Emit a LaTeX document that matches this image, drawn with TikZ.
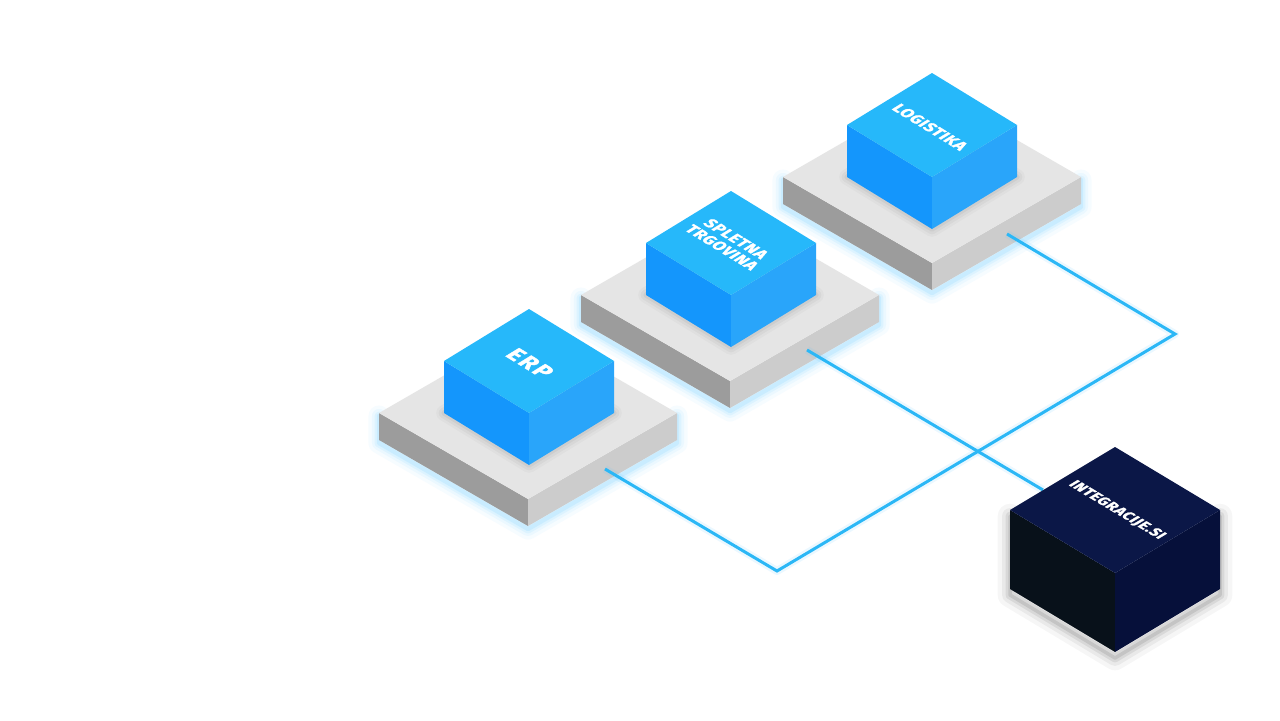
\documentclass[tikz,border=0pt]{standalone}
\usepackage{fontspec}
\setmainfont{Fira Sans}
\newfontfamily\lblfont[LetterSpace=4, BoldFeatures={FakeBold=1.6}]{Fira Sans}
\newfontfamily\erpfont[LetterSpace=10, BoldFeatures={FakeBold=1.8}]{Fira Sans}
\definecolor{cubeTop}{HTML}{26B8FA}
\definecolor{cubeLeft}{HTML}{1496FC}
\definecolor{cubeRight}{HTML}{29A5FA}
\definecolor{plateTop}{HTML}{E5E5E5}
\definecolor{plateLeft}{HTML}{9C9C9C}
\definecolor{plateRight}{HTML}{CCCCCC}
\definecolor{darkTop}{HTML}{0B1747}
\definecolor{darkLeft}{HTML}{08111A}
\definecolor{darkRight}{HTML}{06103A}
\definecolor{lineBlue}{HTML}{2BB7F6}
\definecolor{glowBlue}{HTML}{5CC8FF}
% cx, cy (bottom centre), w, h, H, top, left, right
\newcommand\IsoBox[8]{%
  \fill[#7] (#1-#3,#2-#5) -- (#1,#2-#5+#4) -- (#1,#2+#4) -- (#1-#3,#2) -- cycle;
  \fill[#8] (#1,#2-#5+#4) -- (#1+#3,#2-#5) -- (#1+#3,#2) -- (#1,#2+#4) -- cycle;
  \fill[#6] (#1,#2-#5-#4) -- (#1+#3,#2-#5) -- (#1,#2-#5+#4) -- (#1-#3,#2-#5) -- cycle;
}
% cx, cy, w, h, H, colour
\newcommand\IsoGlow[6]{%
  \foreach \lw/\op in {12pt/0.05,8pt/0.07,5pt/0.10,2.5pt/0.14}{%
    \draw[#6, line width=\lw, opacity=\op, line join=round, line cap=round]
      (#1-#3,#2-#5+3) -- (#1-#3,#2+3) -- (#1,#2+#4+3) -- (#1+#3,#2+3) -- (#1+#3,#2-#5+3);}%
}
% cx, cy, w, h, H  (soft grey drop shadow)
\newcommand\DropShade[5]{%
  \foreach \lw/\op in {14pt/0.035,9pt/0.05,5pt/0.07,2pt/0.09}{%
    \draw[black, line width=\lw, opacity=\op, line join=round, line cap=round]
      (#1-#3,#2-#5+6) -- (#1-#3,#2+6) -- (#1,#2+#4+6) -- (#1+#3,#2+6) -- (#1+#3,#2-#5+6);}%
}
% cx, cy, w, h
\newcommand\BaseShade[4]{%
  \foreach \lw/\op in {9pt/0.025,6pt/0.035,3pt/0.045}{%
    \draw[black, line width=\lw, opacity=\op, line join=round]
      (#1-#3,#2) -- (#1,#2+#4) -- (#1+#3,#2) -- (#1,#2-#4) -- cycle;}%
}
\tikzset{
  conn/.style={lineBlue, line width=1.7pt, line join=miter},
  connglow/.style={glowBlue, line width=4.5pt, opacity=0.12, line join=round},
  lbl/.style={text=white, inner sep=0pt, align=center, transform shape},
}
\begin{document}
\begin{tikzpicture}[x=0.02cm, y=-0.02cm]
\useasboundingbox (0,0) rectangle (1280,720);
\fill[white] (0,0) rectangle (1280,720);

% ---------- LOGISTIKA ----------
\IsoGlow{932}{204}{149}{86}{27}{glowBlue}
\IsoBox{932}{204}{149}{86}{27}{plateTop}{plateLeft}{plateRight}
\BaseShade{932}{177}{85}{52}
\IsoBox{932}{177}{85}{52}{52}{cubeTop}{cubeLeft}{cubeRight}
\begin{scope}[shift={(930,127)}, cm={0.853,-0.523,0.853,0.523,(0,0)}]
  \node[lbl, font={\lblfont\bfseries\fontsize{9.1}{9.6}\selectfont}] (logLbl) at (0,0) {LOGISTIKA};
\end{scope}

% ---------- SPLETNA TRGOVINA ----------
\IsoGlow{730}{322}{149}{86}{27}{glowBlue}
\IsoBox{730}{322}{149}{86}{27}{plateTop}{plateLeft}{plateRight}
\BaseShade{731}{295}{85}{52}
\IsoBox{731}{295}{85}{52}{52}{cubeTop}{cubeLeft}{cubeRight}
\begin{scope}[shift={(729,243)}, cm={0.853,-0.523,0.853,0.523,(0,0)}]
  \node[lbl, font={\lblfont\bfseries\fontsize{9.1}{9.4}\selectfont}] (splLbl) at (0,0) {SPLETNA\\TRGOVINA};
\end{scope}

% ---------- ERP ----------
\IsoGlow{528}{440}{149}{86}{27}{glowBlue}
\IsoBox{528}{440}{149}{86}{27}{plateTop}{plateLeft}{plateRight}
\BaseShade{529}{413}{85}{52}
\IsoBox{529}{413}{85}{52}{52}{cubeTop}{cubeLeft}{cubeRight}
\begin{scope}[shift={(530,363)}, cm={0.853,-0.523,0.853,0.523,(0,0)}]
  \node[lbl, font={\erpfont\bfseries\fontsize{13}{14}\selectfont}] (erpLbl) at (0,0) {ERP};
\end{scope}

% ---------- connectors ----------
\coordinate (erpOut) at (605,469);
\coordinate (bendA) at (777,571);
\coordinate (bendB) at (1175,334);
\coordinate (logOut) at (1007,234);
\coordinate (splOut) at (807,350);
\coordinate (intIn) at (1043,490);
\draw[connglow] (erpOut) -- (bendA) -- (bendB) -- (logOut);
\draw[connglow] (splOut) -- (intIn);
\draw[conn] (erpOut) -- (bendA) -- (bendB) -- (logOut);
\draw[conn] (splOut) -- (intIn);

% ---------- INTEGRACIJE.SI ----------
\DropShade{1115}{589}{105}{63}{79}
\IsoBox{1115}{589}{105}{63}{79}{darkTop}{darkLeft}{darkRight}
\begin{scope}[shift={(1117,510)}, cm={0.857,-0.514,0.857,0.514,(0,0)}]
  \node[lbl, font={\lblfont\bfseries\fontsize{8.4}{9}\selectfont}] (intLbl) at (0,0) {INTEGRACIJE.SI};
\end{scope}
\end{tikzpicture}
\end{document}
